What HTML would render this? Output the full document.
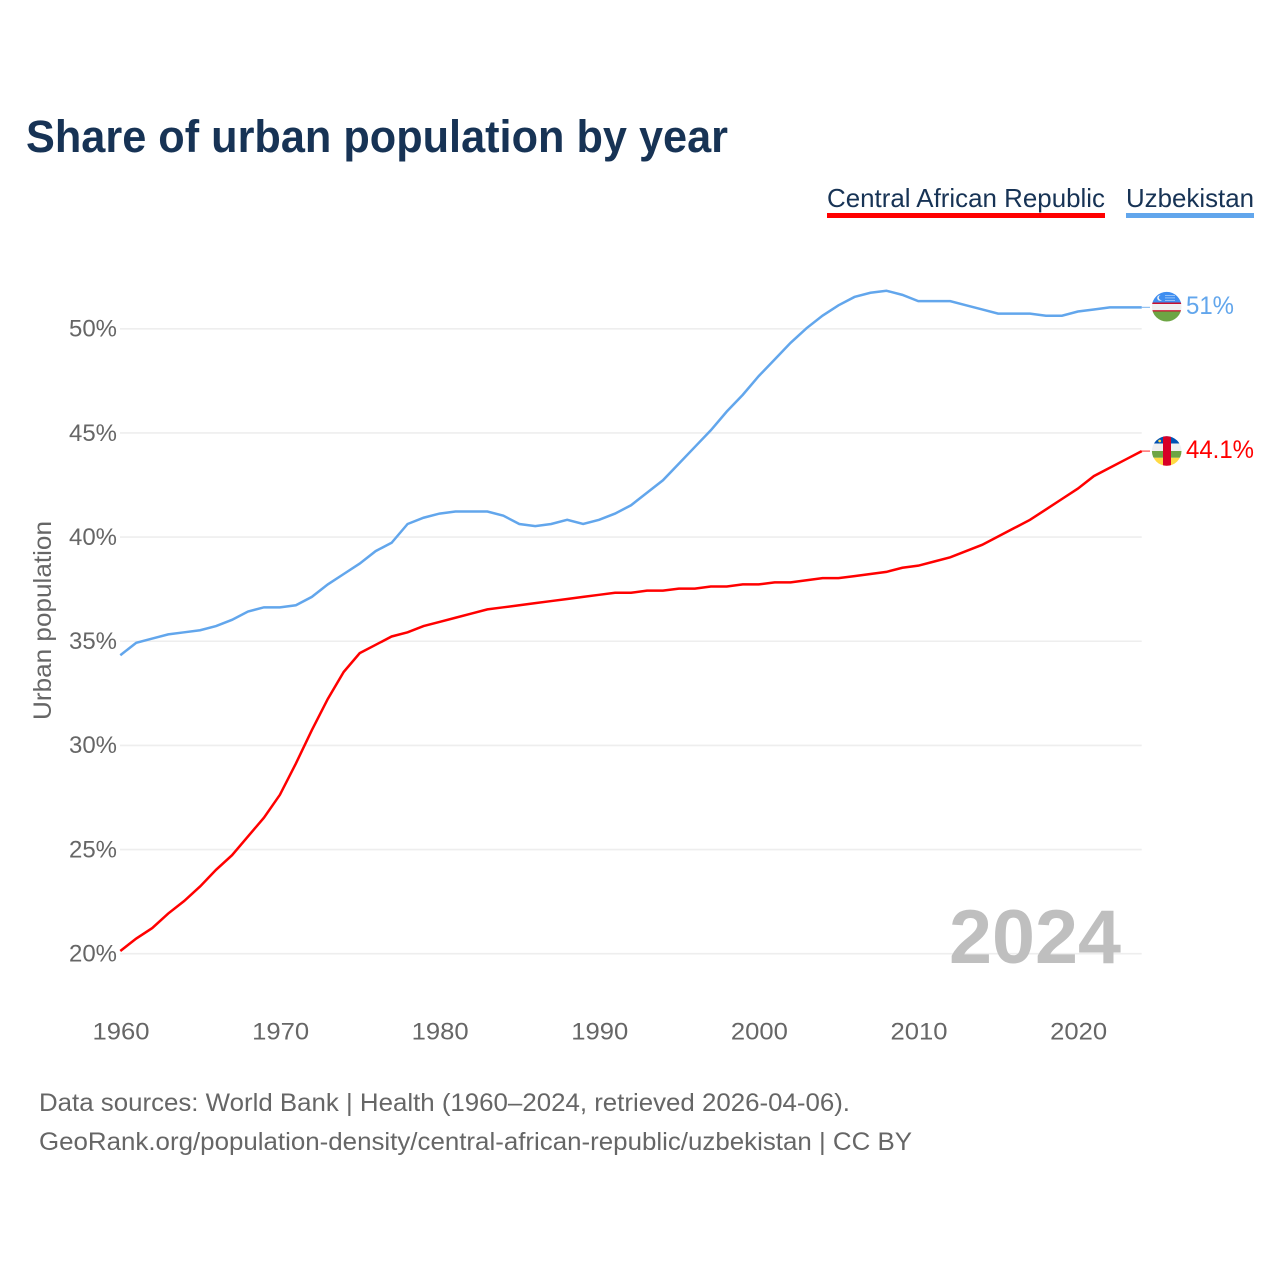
<!DOCTYPE html>
<html lang="en">
<head>
<meta charset="utf-8">
<title>Share of urban population by year</title>
<style>
html,body{margin:0;padding:0;background:#fff;}
svg{display:block;font-family:"Liberation Sans",sans-serif;}
</style>
</head>
<body>
<svg id="chart" xmlns="http://www.w3.org/2000/svg" width="1280" height="1280" viewBox="0 0 1280 1280">
  <defs>
    <clipPath id="clip-uz"><circle cx="1166.7" cy="306.7" r="14.8"/></clipPath>
    <clipPath id="clip-car"><circle cx="1166.7" cy="451" r="14.8"/></clipPath>
  </defs>
  <rect width="1280" height="1280" fill="#fff"/>
  <text x="26" y="152" font-size="45" font-weight="700" fill="#173355" textLength="702" lengthAdjust="spacingAndGlyphs">Share of urban population by year</text>

  <g>
    <text x="827" y="207" font-size="26" fill="#173355" textLength="278" lengthAdjust="spacingAndGlyphs">Central African Republic</text>
    <rect x="827" y="213" width="278" height="5" fill="#ff0000"/>
  </g>
  <g>
    <text x="1126" y="207" font-size="26" fill="#173355" textLength="128" lengthAdjust="spacingAndGlyphs">Uzbekistan</text>
    <rect x="1126" y="213" width="128" height="5" fill="#62a6ec"/>
  </g>

  <g id="grid"></g>
  <g id="yticks"></g>
  <g id="xticks"></g>

  <text transform="translate(51,620.5) rotate(-90)" text-anchor="middle" font-size="25" fill="#666" textLength="199" lengthAdjust="spacingAndGlyphs">Urban population</text>

  <text x="949" y="963" font-size="76" font-weight="700" fill="#bfbfbf" textLength="172" lengthAdjust="spacingAndGlyphs">2024</text>

  <g id="series"></g>

  <g clip-path="url(#clip-uz)">
    <rect x="1150" y="290" width="34" height="13" fill="#3f8ef0"/>
    <rect x="1150" y="302.5" width="34" height="1.5" fill="#c8102e"/>
    <rect x="1150" y="304" width="34" height="6.2" fill="#f0f0f0"/>
    <rect x="1150" y="310.2" width="34" height="1.3" fill="#c8102e"/>
    <rect x="1150" y="311.5" width="34" height="12" fill="#6da544"/>
    <circle cx="1160" cy="298" r="2.8" fill="#f0f0f0"/>
    <circle cx="1161.3" cy="297.6" r="2.5" fill="#3f8ef0"/>
    <rect x="1165" y="295" width="10" height="0.8" fill="#a9cdf8"/>
    <rect x="1165" y="297.5" width="10" height="0.8" fill="#a9cdf8"/>
    <rect x="1165" y="300" width="10" height="0.8" fill="#a9cdf8"/>
  </g>
  <g clip-path="url(#clip-car)">
    <rect x="1150" y="434" width="34" height="9.5" fill="#0052b4"/>
    <rect x="1150" y="443.5" width="34" height="7.5" fill="#f0f0f0"/>
    <rect x="1150" y="451" width="34" height="6.8" fill="#6da544"/>
    <rect x="1150" y="457.8" width="34" height="10" fill="#ffda44"/>
    <rect x="1163" y="434" width="8" height="34" fill="#d80027"/>
    <circle cx="1159.7" cy="441" r="1.4" fill="#ffda44"/>
  </g>

  <text x="1186" y="314" font-size="25" fill="#62a6ec" textLength="48" lengthAdjust="spacingAndGlyphs">51%</text>
  <text x="1186" y="458" font-size="25" fill="#ff0000" textLength="68" lengthAdjust="spacingAndGlyphs">44.1%</text>

  <text x="39" y="1111" font-size="25" fill="#666" textLength="811" lengthAdjust="spacingAndGlyphs">Data sources: World Bank | Health (1960–2024, retrieved 2026-04-06).</text>
  <text x="39" y="1150" font-size="25" fill="#666" textLength="873" lengthAdjust="spacingAndGlyphs">GeoRank.org/population-density/central-african-republic/uzbekistan | CC BY</text>
</svg>
<script>
const startYear = 1960;
const xTickYears = [1960, 1970, 1980, 1990, 2000, 2010, 2020];
const yTickValues = [20, 25, 30, 35, 40, 45, 50];
const carValues = [20.1,20.7,21.2,21.9,22.5,23.2,24.0,24.7,25.6,26.5,27.6,29.1,30.7,32.2,33.5,34.4,34.8,35.2,35.4,35.7,35.9,36.1,36.3,36.5,36.6,36.7,36.8,36.9,37.0,37.1,37.2,37.3,37.3,37.4,37.4,37.5,37.5,37.6,37.6,37.7,37.7,37.8,37.8,37.9,38.0,38.0,38.1,38.2,38.3,38.5,38.6,38.8,39.0,39.3,39.6,40.0,40.4,40.8,41.3,41.8,42.3,42.9,43.3,43.7,44.1];
const uzbValues = [34.3,34.9,35.1,35.3,35.4,35.5,35.7,36.0,36.4,36.6,36.6,36.7,37.1,37.7,38.2,38.7,39.3,39.7,40.6,40.9,41.1,41.2,41.2,41.2,41.0,40.6,40.5,40.6,40.8,40.6,40.8,41.1,41.5,42.1,42.7,43.5,44.3,45.1,46.0,46.8,47.7,48.5,49.3,50.0,50.6,51.1,51.5,51.7,51.8,51.6,51.3,51.3,51.3,51.1,50.9,50.7,50.7,50.7,50.6,50.6,50.8,50.9,51.0,51.0,51.0];

const NS = 'http://www.w3.org/2000/svg';
function xScale(year) { return 120.3 + (year - 1960) * 15.96; }
function yScale(value) { return 953.7 - (value - 20) * 20.83; }
function lineY(value) { return yScale(value) - 0.6; }
function make(tag) { return document.createElementNS(NS, tag); }

const gridGroup = document.getElementById('grid');
const yTickGroup = document.getElementById('yticks');
yTickValues.forEach(function (v) {
  const line = make('line');
  
  
  line.setAttribute('x1', 120);
  line.setAttribute('x2', 1141.7);
  line.setAttribute('y1', yScale(v));
  line.setAttribute('y2', yScale(v));
  line.setAttribute('stroke', '#eeeeee');
  line.setAttribute('stroke-width', 1.6);
  gridGroup.appendChild(line);

  const label = make('text');
  
  
  label.setAttribute('x', 69);
  label.setAttribute('y', yScale(v) + 7.8);
  label.setAttribute('font-size', 24.5);
  label.setAttribute('fill', '#666');
  label.setAttribute('textLength', 48);
  label.setAttribute('lengthAdjust', 'spacingAndGlyphs');
  label.textContent = v + '%';
  yTickGroup.appendChild(label);
});

const xTickGroup = document.getElementById('xticks');
xTickYears.forEach(function (year) {
  const label = make('text');
  
  
  label.setAttribute('x', xScale(year) - 27.8);
  label.setAttribute('y', 1039.5);
  label.setAttribute('font-size', 24.5);
  label.setAttribute('fill', '#666');
  label.setAttribute('textLength', 57);
  label.setAttribute('lengthAdjust', 'spacingAndGlyphs');
  label.textContent = year;
  xTickGroup.appendChild(label);
});

function pathFor(values) {
  return values.map(function (v, i) {
    return (i ? 'L' : 'M') + xScale(startYear + i).toFixed(2) + ' ' + lineY(v).toFixed(2);
  }).join(' ');
}

const seriesGroup = document.getElementById('series');

const uzbLine = make('path');


uzbLine.setAttribute('d', pathFor(uzbValues));
uzbLine.setAttribute('fill', 'none');
uzbLine.setAttribute('stroke', '#62a6ec');
uzbLine.setAttribute('stroke-width', 2.5);
seriesGroup.appendChild(uzbLine);

const carLine = make('path');


carLine.setAttribute('d', pathFor(carValues));
carLine.setAttribute('fill', 'none');
carLine.setAttribute('stroke', '#ff0000');
carLine.setAttribute('stroke-width', 2.5);
seriesGroup.appendChild(carLine);

const uzbLast = uzbValues[uzbValues.length - 1];
const uzbConnector = make('line');


uzbConnector.setAttribute('x1', xScale(startYear + uzbValues.length - 1));
uzbConnector.setAttribute('x2', 1150);
uzbConnector.setAttribute('y1', lineY(uzbLast));
uzbConnector.setAttribute('y2', lineY(uzbLast));
uzbConnector.setAttribute('stroke', '#62a6ec');
uzbConnector.setAttribute('stroke-width', 1.2);
uzbConnector.setAttribute('stroke-opacity', 0.7);
seriesGroup.appendChild(uzbConnector);

const carLast = carValues[carValues.length - 1];
const carConnector = make('line');


carConnector.setAttribute('x1', xScale(startYear + carValues.length - 1));
carConnector.setAttribute('x2', 1150);
carConnector.setAttribute('y1', lineY(carLast));
carConnector.setAttribute('y2', lineY(carLast));
carConnector.setAttribute('stroke', '#ff0000');
carConnector.setAttribute('stroke-width', 1.2);
carConnector.setAttribute('stroke-opacity', 0.7);
seriesGroup.appendChild(carConnector);
</script>
</body>
</html>
